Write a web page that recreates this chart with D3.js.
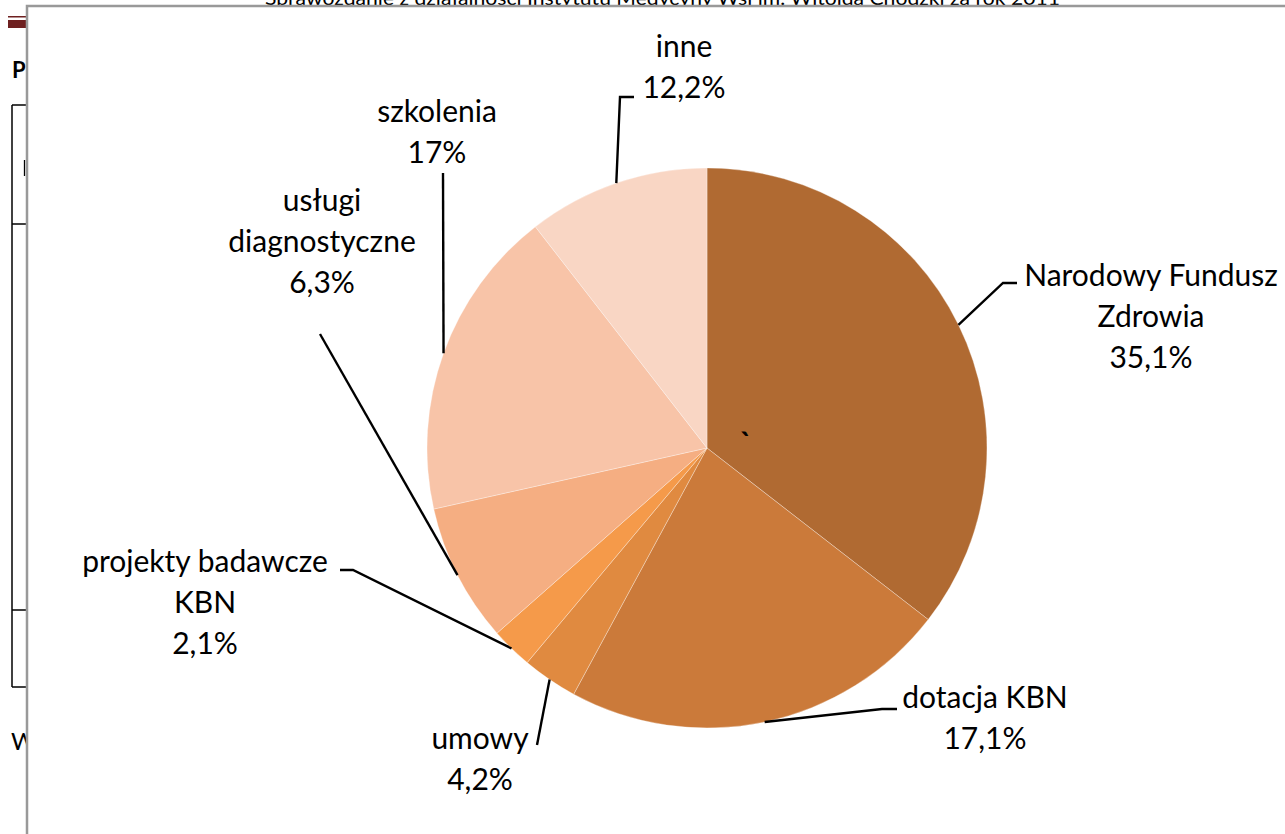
<!DOCTYPE html>
<html>
<head>
<meta charset="utf-8">
<script src="https://cdn.jsdelivr.net/npm/d3@7"></script>
<style>
  body { margin: 0; background: #fff; }
  text { font-family: Lato, "Open Sans", sans-serif; fill: #000; }
</style>
</head>
<body>
<div id="chart"></div>
<script>
// data (slice shares) + the labels as printed
var categories = ["Narodowy Fundusz Zdrowia", "dotacja KBN", "umowy", "projekty badawcze KBN", "usługi diagnostyczne", "szkolenia", "inne"];
var shares = [35.5, 22.4, 3.2, 2.4, 8.0, 18.0, 10.5];
var labelLines = [
  ["Narodowy Fundusz", "Zdrowia", "35,1%"],
  ["dotacja KBN", "17,1%"],
  ["umowy", "4,2%"],
  ["projekty badawcze", "KBN", "2,1%"],
  ["usługi", "diagnostyczne", "6,3%"],
  ["szkolenia", "17%"],
  ["inne", "12,2%"]
];
var colors = ["#b06a32", "#cb7a3a", "#e08a40", "#f59a4a", "#f5ae82", "#f8c4a8", "#f9d6c4"];

// label layout: text centre x, first baseline, then leader line points after the slice edge
var labelPos = [
  { x: 1151, y: 286, leader: [[1003, 283], [1017, 283]] },
  { x: 985, y: 708, leader: [[882, 709], [897, 709]] },
  { x: 480, y: 749, leader: [[537, 745]] },
  { x: 205, y: 572, leader: [[353, 570], [340, 570]] },
  { x: 322, y: 211, leader: [[320, 334]] },
  { x: 437, y: 122, leader: [[443, 173]] },
  { x: 684, y: 57, leader: [[620, 97], [634, 97]] }
];

var svgWidth = 1285;
var svgHeight = 834;
var cx = 707, cy = 448, radius = 280;
var lineH = 41;

var svg = d3.select("#chart")
  .append("svg")
  .attr("width", svgWidth)
  .attr("height", svgHeight);

// --- document behind the chart (its header is cut by the chart frame) ---
var doc = svg.append("g");
doc.append("text")
  .attr("x", 265).attr("y", 5)
  .attr("textLength", 795)
  .attr("lengthAdjust", "spacingAndGlyphs")
  .style("font-size", "19px")
  .text("Sprawozdanie z działalności Instytutu Medycyny Wsi im. Witolda Chodźki za rok 2011");
doc.append("rect").attr("x", 8).attr("y", 16).attr("width", 20).attr("height", 1.5).attr("fill", "#6e2020");
doc.append("rect").attr("x", 8).attr("y", 20).attr("width", 20).attr("height", 8).attr("fill", "#6e2020");
doc.append("text").attr("x", 12).attr("y", 78)
  .style("font-size", "22px").style("font-weight", "bold").text("P");
doc.append("line").attr("x1", 12).attr("x2", 12).attr("y1", 105).attr("y2", 687)
  .attr("stroke", "#000").attr("stroke-width", 1.5);
[105, 224, 610, 687].forEach(function(y) {
  doc.append("line").attr("x1", 12).attr("x2", 28).attr("y1", y).attr("y2", y)
    .attr("stroke", "#000").attr("stroke-width", 1.5);
});
doc.append("line").attr("x1", 24.5).attr("x2", 24.5).attr("y1", 160).attr("y2", 176)
  .attr("stroke", "#000").attr("stroke-width", 1.3);
doc.append("text").attr("x", 11).attr("y", 750).style("font-size", "24px").text("W");

// --- chart area ---
svg.append("rect")
  .attr("x", 27).attr("y", 6)
  .attr("width", 1300).attr("height", 900)
  .attr("fill", "#fff")
  .attr("stroke", "#999")
  .attr("stroke-width", 2.5);

var pie = d3.pie().sort(null).value(function(d) { return d; });
var arcs = pie(shares);
var arc = d3.arc().innerRadius(0).outerRadius(radius);

var g = svg.append("g").attr("transform", "translate(" + cx + "," + cy + ")");

g.selectAll("path.slice")
  .data(arcs)
  .enter()
  .append("path")
  .attr("class", "slice")
  .attr("d", arc)
  .attr("fill", function(d, i) { return colors[i]; })
  .attr("stroke", "#fff")
  .attr("stroke-opacity", 0.4)
  .attr("stroke-width", 0.8);

// leader lines start at the slice mid angle on the rim
var line = d3.line();
arcs.forEach(function(a, i) {
  var mid = (a.startAngle + a.endAngle) / 2;
  var start = [cx + radius * Math.sin(mid), cy - radius * Math.cos(mid)];
  var pts = [start].concat(labelPos[i].leader);
  svg.append("path")
    .attr("d", line(pts))
    .attr("fill", "none")
    .attr("stroke", "#000")
    .attr("stroke-width", 2.4);
});

// labels
labelLines.forEach(function(lines, i) {
  var t = svg.append("text")
    .attr("text-anchor", "middle")
    .style("font-size", "30px");
  lines.forEach(function(s, k) {
    t.append("tspan")
      .attr("x", labelPos[i].x)
      .attr("y", labelPos[i].y + k * lineH)
      .text(s);
  });
});

// small stray mark inside the big slice
svg.append("text").attr("x", 740).attr("y", 454)
  .style("font-size", "30px").style("font-weight", "bold").text("`");
</script>
</body>
</html>
